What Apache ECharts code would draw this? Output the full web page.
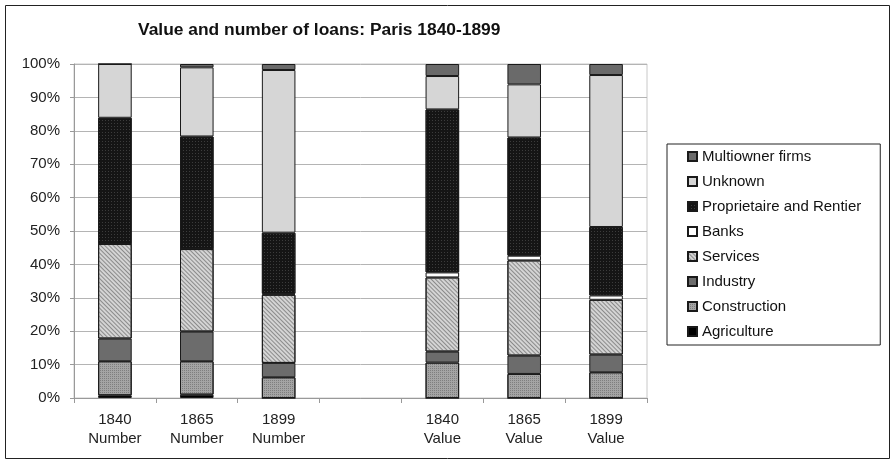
<!DOCTYPE html>
<html>
<head>
<meta charset="utf-8">
<script src="https://cdn.jsdelivr.net/npm/echarts@6/dist/echarts.min.js"></script>
<style>html,body{margin:0;padding:0;background:#fff}#c{width:891px;height:459px}</style>
</head>
<body>
<div id="c"></div>
<script>
const categories = ['1840\nNumber', '1865\nNumber', '1899\nNumber', '', '1840\nValue', '1865\nValue', '1899\nValue'];
const agriculture  = [0.8, 1.0, 0,    null, 0,    0,    0];
const construction = [10.2, 10.0, 6.2, null, 10.6, 7.2, 7.7];
const industry     = [6.8, 8.9, 4.3,  null, 3.3,  5.5,  5.3];
const services     = [28.3, 24.7, 20.4, null, 22.2, 28.5, 16.4];
const banks        = [0, 0, 0.3,      null, 1.5,  1.4,  1.3];
const proprietaire = [37.8, 33.7, 18.3, null, 48.8, 35.4, 20.5];
const unknown      = [16.1, 20.7, 48.7, null, 10.0, 15.9, 45.5];
const multiowner   = [0, 1.0, 1.8,    null, 3.6,  6.1,  3.3];
const yTicks = [0, 10, 20, 30, 40, 50, 60, 70, 80, 90, 100];

const chart = echarts.init(document.getElementById('c'), null, {renderer: 'canvas'});
const FONT = 'Liberation Sans, Arial, sans-serif';

function mk(name, data, color, decal) {
  const s = {
    name: name, type: 'bar', stack: 'all', data: data, barWidth: '41%',
    itemStyle: {color: color, borderColor: '#1a1a1a', borderWidth: 1},
    emphasis: {disabled: true}
  };
  if (decal) s.itemStyle.decal = decal;
  return s;
}

const series = [
  mk('Agriculture', agriculture, '#000000'),
  mk('Construction', construction, '#a4a4a4', {symbol: 'rect', symbolSize: 1, dashArrayX: [1, 1], dashArrayY: [1, 1], color: 'rgba(110,110,110,0.7)'}),
  mk('Industry', industry, '#6c6c6c'),
  mk('Services', services, '#d4d4d4', {symbol: 'rect', symbolSize: 1, dashArrayX: [1, 0], dashArrayY: [1, 2], rotation: Math.PI / 4, color: 'rgba(120,120,120,0.8)'}),
  mk('Banks', banks, '#ffffff'),
  mk('Proprietaire and Rentier', proprietaire, '#151515', {symbol: 'rect', symbolSize: 1, dashArrayX: [1, 2], dashArrayY: [1, 2], color: 'rgba(70,70,70,0.8)'}),
  mk('Unknown', unknown, '#d6d6d6'),
  mk('Multiowner firms', multiowner, '#6a6a6a')
];

chart.setOption({
  animation: false,
  backgroundColor: '#ffffff',
  title: {
    text: 'Value and number of loans: Paris 1840-1899',
    left: 133, top: 17,
    textStyle: {fontFamily: FONT, fontSize: 17.4, fontWeight: 'bold', color: '#111'}
  },
  graphic: [{
    type: 'rect', left: 3, top: 3, silent: true,
    shape: {width: 884, height: 453},
    style: {fill: 'none', stroke: '#222', lineWidth: 1}
  }],
  grid: {left: 74, right: 244, top: 64, bottom: 61, show: true, borderColor: '#c8c8c8', borderWidth: 1, backgroundColor: 'transparent'},
  legend: {
    orient: 'vertical', left: 667, top: 144,
    data: ['Multiowner firms', 'Unknown', 'Proprietaire and Rentier', 'Banks', 'Services', 'Industry', 'Construction', 'Agriculture'],
    itemWidth: 9, itemHeight: 9, itemGap: 10,
    padding: [5, 19, 6, 20],
    borderColor: '#222', borderWidth: 1,
    icon: 'rect',
    textStyle: {fontFamily: FONT, fontSize: 15, color: '#111', lineHeight: 15}
  },
  xAxis: {
    type: 'category', data: categories,
    axisLine: {lineStyle: {color: '#999'}},
    axisTick: {show: true, length: 5, lineStyle: {color: '#999'}},
    axisLabel: {fontFamily: FONT, fontSize: 15, color: '#222', lineHeight: 19, margin: 12, interval: 0}
  },
  yAxis: {
    type: 'value', min: yTicks[0], max: yTicks[yTicks.length - 1], interval: 10,
    axisLine: {show: true, lineStyle: {color: '#999'}},
    axisTick: {show: true, length: 4, lineStyle: {color: '#999'}},
    splitLine: {lineStyle: {color: '#b4b4b4'}},
    axisLabel: {fontFamily: FONT, fontSize: 15, color: '#222', margin: 14, formatter: '{value}%'}
  },
  series: series
});
</script>
</body>
</html>
